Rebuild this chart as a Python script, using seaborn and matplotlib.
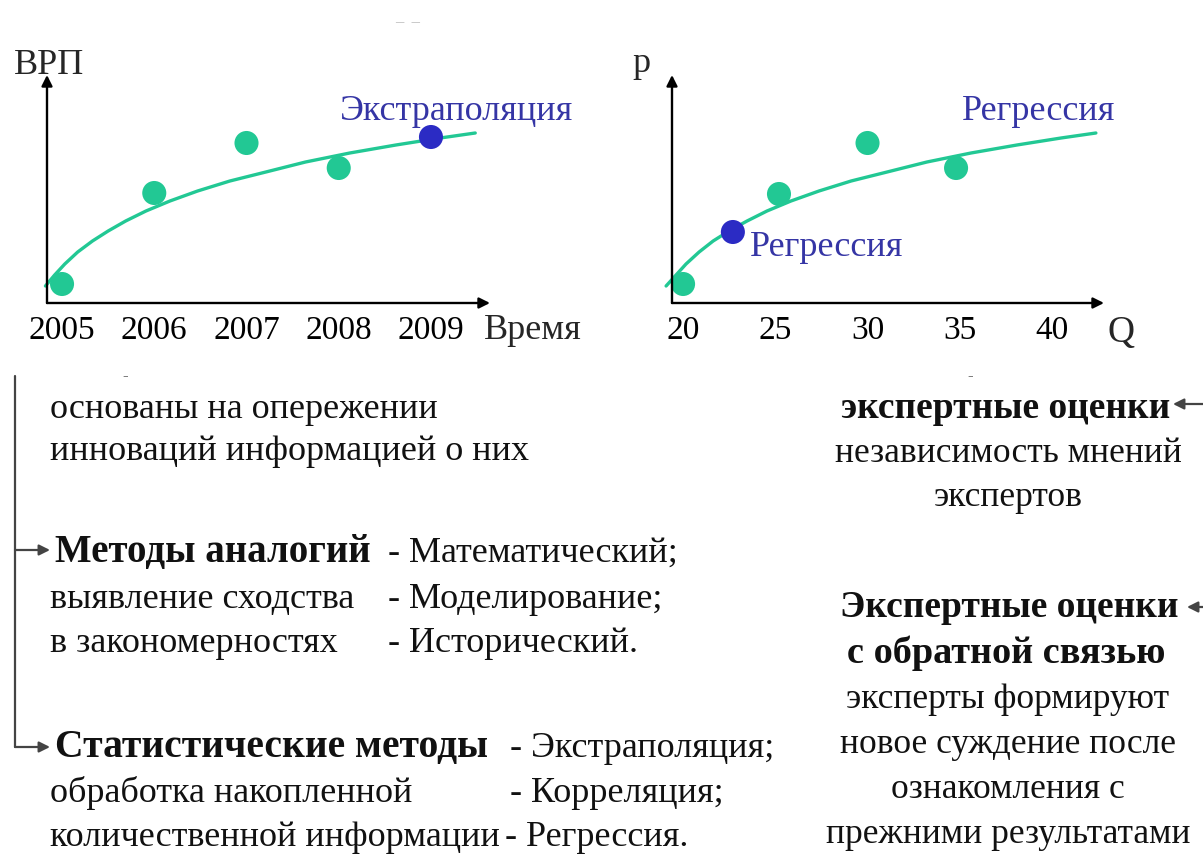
import numpy as np
import pandas as pd
import matplotlib
matplotlib.use("Agg")
import matplotlib.pyplot as plt
import seaborn as sns

# ---------------- data ----------------
years = [2005, 2006, 2007, 2008]
gdp_values = [19, 110, 160, 135]
extrap_year = [2009]
extrap_value = [166]
year_ticks = [2005, 2006, 2007, 2008, 2009]
year_labels = ["2005", "2006", "2007", "2008", "2009"]
trend_years = [2004.82, 2004.92, 2005.03, 2005.17, 2005.33, 2005.50, 2005.69,
               2005.91, 2006.17, 2006.47, 2006.82, 2007.21, 2007.64, 2008.12,
               2008.62, 2009.10, 2009.48]
trend_values = [17, 28, 39, 51, 62, 72, 82, 92, 102, 112, 122, 131, 141, 150,
                158, 165, 170]

q_values = [20, 25.2, 30, 34.8]
p_values = [19, 109, 160, 135]
regr_q = [22.7]
regr_p = [71]
q_ticks = [20, 25, 30, 35, 40]
q_labels = ["20", "25", "30", "35", "40"]
trend_q = [19.08, 19.62, 20.16, 20.87, 21.63, 22.49, 23.47, 24.55, 25.85,
           27.37, 29.11, 31.06, 33.22, 35.61, 38.10, 40.49, 42.38]
trend_p = [17, 28, 39, 51, 62, 72, 82, 92, 102, 112, 122, 131, 141, 150,
           158, 165, 170]

# ---------------- style ----------------
sns.set_theme(style="white")
plt.rcParams["font.family"] = ["Liberation Serif", "DejaVu Serif"]

W, H = 1203, 868
fig = plt.figure(figsize=(W / 100, H / 100), dpi=100)
fig.patch.set_facecolor("white")

TEAL = "#22c894"
BLUE = "#2b2bc4"
LBLUE = "#3535a5"
FS = 24
LFS = 26    # left text block
RFS = 25.5  # right text block


def ax_rect(x0, x1, ytop, ybot):
    return [x0 / W, 1 - ybot / H, (x1 - x0) / W, (ybot - ytop) / H]


def style_axes(ax):
    for s in ax.spines.values():
        s.set_visible(False)
    ax.set_yticks([])
    ax.tick_params(axis="x", length=0, pad=9, labelsize=FS, colors="black")
    ax.set_xlabel("")
    ax.set_ylabel("")
    ax.annotate("", xy=(1.0, 0), xytext=(0, 0), xycoords="axes fraction",
                arrowprops=dict(arrowstyle="-|>", lw=1.7, color="black",
                                mutation_scale=16, shrinkA=0, shrinkB=0))
    ax.annotate("", xy=(0, 1.0), xytext=(0, 0), xycoords="axes fraction",
                arrowprops=dict(arrowstyle="-|>", lw=1.7, color="black",
                                mutation_scale=16, shrinkA=0, shrinkB=0))


def trend(ax, x, y):
    sns.lineplot(x=x, y=y, ax=ax, color=TEAL, lw=2.4, clip_on=False,
                 sort=False, solid_joinstyle="round", solid_capstyle="round")


# ---------------- left chart ----------------
ax1 = fig.add_axes(ax_rect(47, 490, 75, 303))
ax1.set_facecolor("none")
trend(ax1, trend_years, trend_values)
sns.scatterplot(x=years, y=gdp_values, ax=ax1, color=TEAL, s=300,
                edgecolor="none", clip_on=False, zorder=3)
sns.scatterplot(x=extrap_year, y=extrap_value, ax=ax1, color=BLUE, s=300,
                edgecolor="none", clip_on=False, zorder=4)
ax1.set_xlim(2004.837, 2009.64)
ax1.set_ylim(0, 228)
ax1.set_xticks(year_ticks)
ax1.set_xticklabels(year_labels)
style_axes(ax1)
ax1.text(2009.57, -27, "Время", fontsize=26, ha="left", va="center")
fig.text(14 / W, 1 - 66 / H, "ВРП", fontsize=26, ha="left", va="center")
fig.text(340 / W, 1 - 112 / H, "Экстраполяция", fontsize=26,
         color=LBLUE, ha="left", va="center")

# ---------------- right chart ----------------
ax2 = fig.add_axes(ax_rect(672, 1104, 75, 303))
ax2.set_facecolor("none")
trend(ax2, trend_q, trend_p)
sns.scatterplot(x=q_values, y=p_values, ax=ax2, color=TEAL, s=300,
                edgecolor="none", clip_on=False, zorder=3)
sns.scatterplot(x=regr_q, y=regr_p, ax=ax2, color=BLUE, s=300,
                edgecolor="none", clip_on=False, zorder=4)
ax2.set_xlim(19.40, 42.82)
ax2.set_ylim(0, 228)
ax2.set_xticks(q_ticks)
ax2.set_xticklabels(q_labels)
style_axes(ax2)
ax2.text(43.0, -30, "Q", fontsize=27, ha="left", va="center")
fig.text(632 / W, 1 - 64 / H, "p", fontsize=26, ha="left", va="center")
fig.text(962 / W, 1 - 112 / H, "Регрессия", fontsize=26, color=LBLUE,
         ha="left", va="center")
fig.text(750 / W, 1 - 247 / H, "Регрессия", fontsize=26, color=LBLUE,
         ha="left", va="center")

# faint marks at the top
fig.text(408 / W, 1 - 22 / H, "–  –", fontsize=12, color="#bbbbbb",
         ha="center", va="center")
fig.text(125 / W, 1 - 376 / H, "-", fontsize=12, color="#555555",
         ha="center", va="center")
fig.text(970 / W, 1 - 376 / H, "-", fontsize=12, color="#555555",
         ha="center", va="center")


# ---------------- text block ----------------
def t(x, yb, s, bold=False, ha="left", size=LFS):
    fig.text(x / W, 1 - yb / H, s, fontsize=size, ha=ha, va="baseline",
             fontweight="bold" if bold else "normal", color="#111111")


t(50, 418, "основаны на опережении")
t(50, 460, "инноваций информацией о них")
t(55, 562, "Методы аналогий", bold=True, size=28)
t(388, 562, "- Математический;")
t(50, 608, "выявление сходства")
t(388, 608, "- Моделирование;")
t(50, 652, "в закономерностях")
t(388, 652, "- Исторический.")
t(55, 757, "Статистические методы", bold=True, size=28.5)
t(510, 757, "- Экстраполяция;")
t(50, 802, "обработка накопленной")
t(510, 802, "- Корреляция;")
t(50, 846, "количественной информации")
t(505, 846, "- Регрессия.")

CX = 1006
t(CX, 418, "экспертные оценки", bold=True, ha="center", size=27)
t(CX + 2, 462, "независимость мнений", ha="center", size=RFS)
t(CX + 2, 506, "экспертов", ha="center", size=RFS)
t(CX + 3, 617, "Экспертные оценки", bold=True, ha="center", size=27)
t(CX, 663, "с обратной связью", bold=True, ha="center", size=27.5)
t(CX + 2, 708, "эксперты формируют", ha="center", size=RFS)
t(CX + 2, 753, "новое суждение после", ha="center", size=RFS)
t(CX + 2, 798, "ознакомления с", ha="center", size=RFS)
t(CX + 2, 843, "прежними результатами", ha="center", size=RFS)

# bracket and arrows (figure pixel coordinates, y measured from top)
def fp(x, y):
    return (x, H - y)

GRAY = "#444444"
fig.add_artist(plt.Line2D([15 / W, 15 / W], [1 - 376 / H, 1 - 747 / H],
                          color=GRAY, lw=1.6))
for yy in (550, 747):
    fig.add_artist(matplotlib.patches.FancyArrowPatch(
        fp(15, yy), fp(50, yy), transform=None, arrowstyle="-|>",
        mutation_scale=16, lw=1.6, color=GRAY, shrinkA=0, shrinkB=0))
for xx, yy in ((1173, 404), (1187, 607)):
    fig.add_artist(matplotlib.patches.FancyArrowPatch(
        fp(1215, yy), fp(xx, yy), transform=None, arrowstyle="-|>",
        mutation_scale=16, lw=1.6, color=GRAY, shrinkA=0, shrinkB=0))

fig.savefig("out.png", dpi=100, facecolor="white")
